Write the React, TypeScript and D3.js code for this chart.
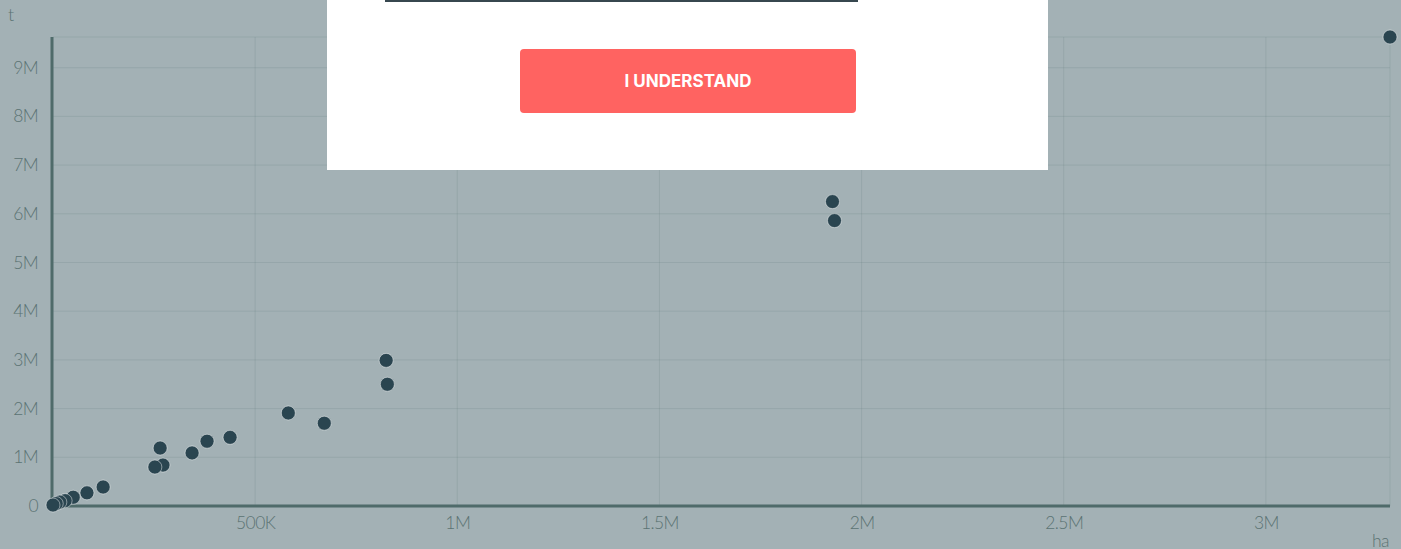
import * as d3 from "d3";
import { useRef, useEffect, useMemo } from "react";

const width = 1401;
const height = 549;
const marginTop = 37;
const marginRight = 11;
const marginBottom = 43;
const marginLeft = 53;

// harvested area (ha) vs production (t)
const areaHa = [
  3307000, 1928000, 1933000, 824000, 827000, 582000, 671000, 438000, 381000,
  344000, 265000, 272000, 252000, 124000, 84000, 50000, 30000, 17000, 8000, 0,
];
const productionT = [
  9630000, 6250000, 5860000, 2990000, 2500000, 1910000, 1700000, 1410000,
  1330000, 1090000, 1190000, 840000, 800000, 390000, 270000, 180000, 110000,
  80000, 50000, 20000,
];
const xTicks = [500000, 1000000, 1500000, 2000000, 2500000, 3000000];
const yTicks = [0, 1e6, 2e6, 3e6, 4e6, 5e6, 6e6, 7e6, 8e6, 9e6];

const bg = "#a3b1b5";
const axisColor = "#4f6b6a";
const labelColor = "#5b7373";
const dotColor = "#2a4550";
const font = "Lato, 'Noto Sans', sans-serif";

const fmt = (d: number) =>
  d === 0 ? "0" : d >= 1e6 ? `${d / 1e6}M` : `${d / 1e3}K`;

const styleLabels = (g: d3.Selection<SVGGElement, unknown, null, undefined>) =>
  g
    .selectAll("text")
    .attr("fill", labelColor)
    .attr("font-size", 17.5)
    .attr("font-weight", 300)
    .attr("font-family", font)
    .attr("letter-spacing", "-0.6px");

const App = () => {
  const gx = useRef<SVGGElement>(null);
  const gy = useRef<SVGGElement>(null);

  const points = useMemo(
    () => areaHa.map((a, i) => ({ area: a, prod: productionT[i] })),
    []
  );

  const x = useMemo(
    () =>
      d3
        .scaleLinear()
        .domain([0, d3.max(areaHa) as number])
        .range([marginLeft, width - marginRight]),
    []
  );
  const y = useMemo(
    () =>
      d3
        .scaleLinear()
        .domain([0, d3.max(productionT) as number])
        .range([height - marginBottom, marginTop]),
    []
  );

  useEffect(() => {
    document.body.style.margin = "0";
    if (gx.current) {
      d3.select(gx.current)
        .call(d3.axisBottom(x).tickValues(xTicks).tickFormat((d) => fmt(+d)).tickSize(0).tickPadding(11))
        .call((g) => g.select(".domain").remove())
        .call(styleLabels);
    }
    if (gy.current) {
      d3.select(gy.current)
        .call(d3.axisLeft(y).tickValues(yTicks).tickFormat((d) => fmt(+d)).tickSize(0).tickPadding(15))
        .call((g) => g.select(".domain").remove())
        .call(styleLabels);
    }
  }, [x, y]);

  const [x0, x1] = x.range();
  const [y0, y1] = y.range();

  return (
    <div style={{ position: "fixed", left: 0, top: 0 }}>
      <svg width={width} height={height} viewBox={`0 0 ${width} ${height}`} style={{ display: "block", background: bg }}>
        <g stroke="#5f7878" strokeOpacity={0.18} strokeWidth={1}>
          {[...xTicks, x.domain()[1]].map((t) => (
            <line key={"vx" + t} x1={x(t)} x2={x(t)} y1={y1} y2={y0} />
          ))}
          {[...yTicks, y.domain()[1]].map((t) => (
            <line key={"hy" + t} x1={x0} x2={x1} y1={y(t)} y2={y(t)} />
          ))}
        </g>

        <line x1={x0} x2={x1} y1={y0} y2={y0} stroke={axisColor} strokeWidth={3} />
        <line x1={x0 - 1} x2={x0 - 1} y1={y1} y2={y0} stroke={axisColor} strokeWidth={3} />

        <g ref={gx} transform={`translate(0, ${y0})`} />
        <g ref={gy} transform={`translate(${x0}, 0)`} />

        <text x={8} y={21} fill={labelColor} fontSize={18} fontWeight={300} fontFamily={font}>t</text>
        <text x={1389} y={547} fill={labelColor} fontSize={17.5} fontWeight={300} fontFamily={font} textAnchor="end" letterSpacing="-0.6px">ha</text>

        {points.map((p, i) => (
          <circle
            key={i}
            cx={x(p.area)}
            cy={y(p.prod)}
            r={7}
            fill={dotColor}
            stroke="#ffffff"
            strokeOpacity={0.45}
            strokeWidth={1}
          />
        ))}

        {/* cookie notice overlay */}
        <rect x={327} y={0} width={721} height={170} fill="#ffffff" />
        <rect x={385} y={0} width={473} height={2} fill="#37474f" />
        <rect x={520} y={49} width={336} height={64} rx={4} fill="#ff6361" />
        <text
          x={688}
          y={87}
          fill="#ffffff"
          fontSize={17}
          fontWeight={700}
          fontFamily="Inter, 'Noto Sans', sans-serif"
          textAnchor="middle"
        >
          I UNDERSTAND
        </text>
      </svg>
    </div>
  );
};

export default App;
